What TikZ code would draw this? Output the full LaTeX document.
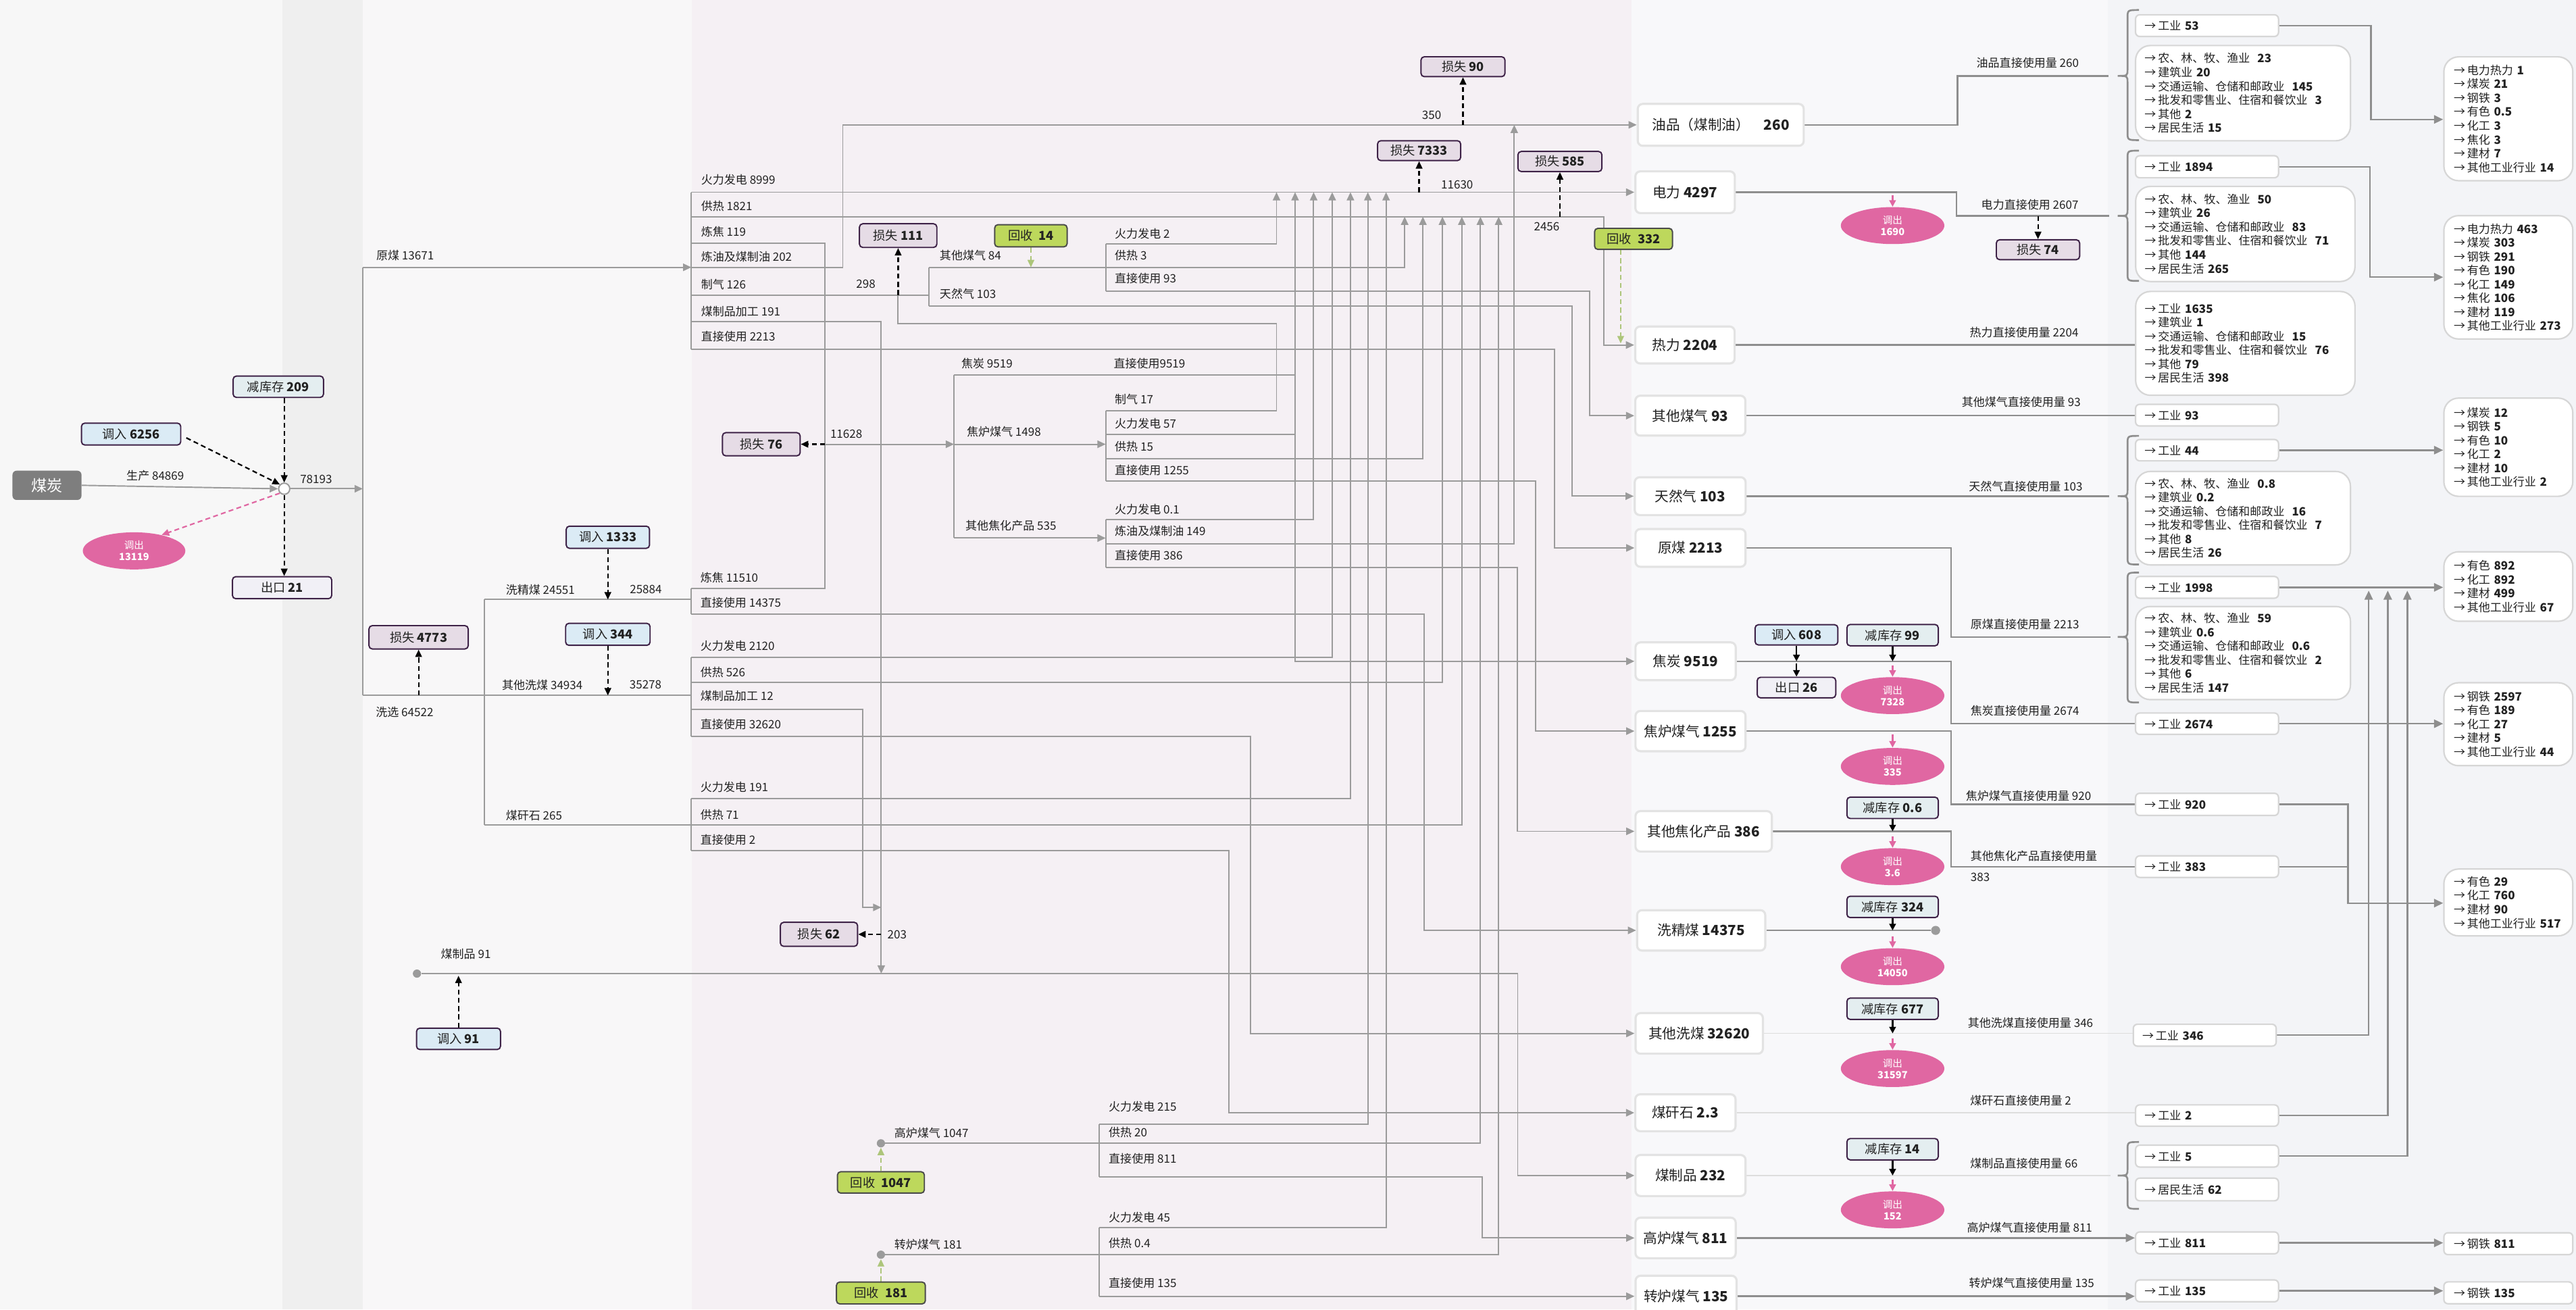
\documentclass[tikz,border=0pt]{standalone}
\usepackage{fontspec}
\setmainfont{Noto Sans CJK SC}
\usetikzlibrary{arrows.meta,shapes.geometric}

\definecolor{bandA}{HTML}{F7F7F7}
\definecolor{bandB}{HTML}{EFEFEF}
\definecolor{bandC}{HTML}{F8F7F8}
\definecolor{bandD}{HTML}{F5F0F4}
\definecolor{bandE}{HTML}{F8F8FA}
\definecolor{bandF}{HTML}{F3F4F7}
\definecolor{edge}{HTML}{9B9B9B}
\definecolor{edgeR}{HTML}{8E8E8E}
\definecolor{faint}{HTML}{DDDDDD}
\definecolor{nodeline}{HTML}{E3E3E3}
\definecolor{tagline}{HTML}{3E2247}
\definecolor{lossfill}{HTML}{E6DCE6}
\definecolor{infill}{HTML}{DBEBF5}
\definecolor{stockfill}{HTML}{E4EEF0}
\definecolor{exportfill}{HTML}{F1F0F6}
\definecolor{recfill}{HTML}{BDD85C}
\definecolor{recline}{HTML}{4B4B4B}
\definecolor{recdash}{HTML}{ADC57A}
\definecolor{outpink}{HTML}{E067A2}
\definecolor{coalgray}{HTML}{7E7E7E}
\definecolor{sectline}{HTML}{D6D6D6}
\definecolor{ink}{HTML}{222222}

\newcommand\fsLab{\fontsize{7}{8}\selectfont}
\newcommand\fsTag{\fontsize{7.5}{9}\selectfont}
\newcommand\fsMain{\fontsize{8.5}{10}\selectfont}
\newcommand\fsList{\fontsize{7}{8.45}\selectfont}
\newcommand\fsOut{\fontsize{6}{7}\selectfont}

\pgfdeclarelayer{bg}
\pgfdeclarelayer{edges}
\pgfsetlayers{bg,edges,main}

\begin{document}
\begin{tikzpicture}[x=1pt,y=-1pt,
  every node/.append style={text=ink},
  flow/.style={draw=edge, line width=0.8pt},
  flowar/.style={flow, -{Triangle[length=5pt,width=4.5pt]}},
  rflow/.style={draw=edgeR, line width=1pt},
  rflowar/.style={rflow, -{Triangle[length=5.5pt,width=5pt]}},
  faintflow/.style={draw=faint, line width=0.7pt},
  lossar/.style={draw=black, line width=0.9pt, dash pattern=on 3pt off 2pt, -{Triangle[length=4.5pt,width=4pt]}},
  recar/.style={draw=recdash, line width=0.9pt, dash pattern=on 3pt off 2pt, -{Triangle[length=4.5pt,width=4pt]}},
  pinkar/.style={draw=outpink, line width=0.9pt, -{Triangle[length=4pt,width=4pt]}},
  pinkdash/.style={draw=outpink, line width=0.9pt, dash pattern=on 3pt off 2pt, -{Triangle[length=4.5pt,width=4pt]}},
  stockar/.style={draw=black, line width=0.9pt, -{Triangle[length=4pt,width=4pt]}},
  lab/.style={anchor=west, inner sep=0pt, font=\fsLab},
  mainnode/.style={draw=nodeline, line width=1.3pt, fill=white, rounded corners=3pt, inner sep=0pt, font=\fsMain},
  tag/.style={draw=tagline, line width=0.8pt, rounded corners=2pt, inner sep=0pt, font=\fsTag},
  losstag/.style={tag, fill=lossfill},
  intag/.style={tag, fill=infill},
  stocktag/.style={tag, fill=stockfill},
  exporttag/.style={tag, fill=exportfill},
  rectag/.style={tag, draw=recline, fill=recfill},
  outell/.style={ellipse, fill=outpink, text=white, inner sep=0pt, font=\fsOut, align=center, minimum width=63pt, minimum height=22.5pt},
  sect/.style={draw=sectline, line width=0.9pt, fill=white, rounded corners=2.5pt, inner xsep=5.5pt, inner ysep=0pt, font=\fsList, align=left, minimum width=87pt, text width=76pt},
  sectbig/.style={draw=sectline, line width=0.9pt, fill=white, rounded corners=9pt, inner xsep=5.5pt, inner ysep=0pt, font=\fsList, align=left},
  sectfar/.style={draw=sectline, line width=0.9pt, fill=white, rounded corners=9pt, inner xsep=6pt, inner ysep=0pt, font=\fsList, align=left, minimum width=78.5pt, text width=66.5pt},
  dotnode/.style={circle, fill=edge, minimum size=5pt, inner sep=0pt},
  bracestroke/.style={draw=edgeR, line width=1.1pt},
]
\useasboundingbox (0,0) rectangle (1568,797);

% ---------- background bands ----------
\begin{pgfonlayer}{bg}
\fill[bandA] (0,0) rectangle (172,797);
\fill[bandB] (172,0) rectangle (221,797);
\fill[bandC] (221,0) rectangle (421,797);
\fill[bandD] (421,0) rectangle (993,797);
\fill[bandE] (993,0) rectangle (1283,797);
\fill[bandF] (1283,0) rectangle (1568,797);
\end{pgfonlayer}

% ---------- source side ----------
\node[fill=coalgray, rounded corners=2.5pt, minimum width=42pt, minimum height=17.8pt, inner sep=0pt, text=white, font=\fontsize{9.5}{11}\selectfont] (coal) at (28.6,295.4) {煤炭};
\node[circle, draw=edge, fill=white, line width=0.8pt, minimum size=6.8pt, inner sep=0pt] (hub) at (173,297.5) {};
\node[stocktag, minimum width=55pt, minimum height=13pt] (stkA) at (169.4,235.4) {减库存 \textbf{209}};
\node[intag, minimum width=60.4pt, minimum height=13.3pt] (inA) at (79.8,264.2) {调入 \textbf{6256}};
\node[exporttag, minimum width=60.4pt, minimum height=13.4pt] (exA) at (171.7,357.7) {出口 \textbf{21}};
\node[outell, minimum width=62.4pt, minimum height=22.6pt] (outA) at (81.6,335.3) {调出\\\textbf{13119}};
\node[intag, minimum width=50.7pt, minimum height=13.5pt] (inB) at (370,327) {调入 \textbf{1333}};
\node[intag, minimum width=51.4pt, minimum height=13.4pt] (inC) at (370,386.1) {调入 \textbf{344}};
\node[losstag, minimum width=60.4pt, minimum height=14.2pt] (lossA) at (254.8,387.9) {损失 \textbf{4773}};
\node[intag, minimum width=51.1pt, minimum height=13pt] (inD) at (279.1,632.3) {调入 \textbf{91}};
\node[dotnode] (dotP) at (253.8,592.6) {};

% ---------- conversion area tags ----------
\node[losstag, minimum width=47.3pt, minimum height=14.1pt] (lossB) at (463.4,270.4) {损失 \textbf{76}};
\node[losstag, minimum width=47.1pt, minimum height=14.4pt] (lossC) at (546.7,143.4) {损失 \textbf{111}};
\node[rectag, minimum width=44.1pt, minimum height=13.5pt] (recA) at (627.5,143.5) {回收\enspace\textbf{14}};
\node[losstag, minimum width=47pt, minimum height=14.6pt] (lossD) at (498.5,568.7) {损失 \textbf{62}};
\node[dotnode] (dotB) at (536.2,695.9) {};
\node[dotnode] (dotL) at (536.2,763.7) {};
\node[rectag, minimum width=52.9pt, minimum height=13pt] (recB) at (536.2,719.7) {回收\enspace\textbf{1047}};
\node[rectag, minimum width=54.1pt, minimum height=13.3pt] (recC) at (536.2,787) {回收\enspace\textbf{181}};
\node[losstag, minimum width=51.1pt, minimum height=12.1pt] (lossE) at (890.5,40.6) {损失 \textbf{90}};
\node[losstag, minimum width=50.6pt, minimum height=12.1pt] (lossF) at (863.8,91.7) {损失 \textbf{7333}};
\node[losstag, minimum width=51.1pt, minimum height=12.2pt] (lossG) at (949.5,98.3) {损失 \textbf{585}};
\node[rectag, minimum width=47.4pt, minimum height=12.8pt] (recD) at (994.3,145.4) {回收\enspace\textbf{332}};

% ---------- final energy nodes ----------
\node[mainnode, minimum width=101pt, minimum height=25.5pt] (oil) at (1047.4,76) {油品（煤制油）\quad\textbf{260}};
\node[mainnode, minimum width=60.5pt, minimum height=25.4pt] (elec) at (1025.7,117) {电力 \textbf{4297}};
\node[mainnode, minimum width=60.5pt, minimum height=22.5pt] (heat) at (1025.6,210) {热力 \textbf{2204}};
\node[mainnode, minimum width=67pt, minimum height=24.3pt] (ogas) at (1028.9,253) {其他煤气 \textbf{93}};
\node[mainnode, minimum width=67.5pt, minimum height=23pt] (ngas) at (1028.8,302) {天然气 \textbf{103}};
\node[mainnode, minimum width=67pt, minimum height=23pt] (raw) at (1029,333.5) {原煤 \textbf{2213}};
\node[mainnode, minimum width=61pt, minimum height=23pt] (coke) at (1026,402.5) {焦炭 \textbf{9519}};
\node[mainnode, minimum width=67pt, minimum height=24.5pt] (cog) at (1029,445) {焦炉煤气 \textbf{1255}};
\node[mainnode, minimum width=83pt, minimum height=24.6pt] (ocp) at (1037,506) {其他焦化产品 \textbf{386}};
\node[mainnode, minimum width=78pt, minimum height=24.6pt] (wcc) at (1035.5,566.3) {洗精煤 \textbf{14375}};
\node[mainnode, minimum width=77.5pt, minimum height=24.7pt] (owc) at (1034.3,629) {其他洗煤 \textbf{32620}};
\node[mainnode, minimum width=61pt, minimum height=22.5pt] (gang) at (1025.9,677.3) {煤矸石 \textbf{2.3}};
\node[mainnode, minimum width=67pt, minimum height=25pt] (cprod) at (1029,715.5) {煤制品 \textbf{232}};
\node[mainnode, minimum width=61pt, minimum height=24.7pt] (bfg) at (1026,753.5) {高炉煤气 \textbf{811}};
\node[mainnode, minimum width=61.5pt, minimum height=25pt] (ldg) at (1026.3,789) {转炉煤气 \textbf{135}};

% ---------- adjustments beside final nodes ----------
\node[losstag, minimum width=50.7pt, minimum height=12.1pt] (lossH) at (1240.5,152) {损失 \textbf{74}};
\node[intag, minimum width=50.4pt, minimum height=12.3pt] (inE) at (1093.5,386.4) {调入 \textbf{608}};
\node[exporttag, minimum width=47.8pt, minimum height=12.5pt] (exB) at (1093.5,418.5) {出口 \textbf{26}};
\node[stocktag, minimum width=55.6pt, minimum height=13pt] (stkB) at (1152,386.6) {减库存 \textbf{99}};
\node[stocktag, minimum width=55.6pt, minimum height=13pt] (stkC) at (1152,491.7) {减库存 \textbf{0.6}};
\node[stocktag, minimum width=55.6pt, minimum height=13pt] (stkD) at (1152,552) {减库存 \textbf{324}};
\node[stocktag, minimum width=55.6pt, minimum height=13pt] (stkE) at (1152,614) {减库存 \textbf{677}};
\node[stocktag, minimum width=55.6pt, minimum height=13pt] (stkF) at (1152,699.5) {减库存 \textbf{14}};
\node[outell] (outE) at (1152,137.3) {调出\\\textbf{1690}};
\node[outell] (outF) at (1152,423.4) {调出\\\textbf{7328}};
\node[outell] (outG) at (1152,466.5) {调出\\\textbf{335}};
\node[outell] (outH) at (1152,527.5) {调出\\\textbf{3.6}};
\node[outell] (outI) at (1152,588.4) {调出\\\textbf{14050}};
\node[outell] (outJ) at (1152,650.4) {调出\\\textbf{31597}};
\node[outell] (outK) at (1152,736.4) {调出\\\textbf{152}};
\node[dotnode, minimum size=5.5pt] (dotW) at (1178.2,566.3) {};

% ---------- end-use sectors ----------
\node[sect, minimum height=13.2pt] (s53) at (1343.4,15.6) {→\,工业 \textbf{53}};
\node[sectbig, minimum width=130.8pt, text width=119.8pt, minimum height=58pt] (oilB) at (1365.3,56.7) {→\,农、林、牧、渔业\hspace{4.5pt}\textbf{23}\\→\,建筑业 \textbf{20}\\→\,交通运输、仓储和邮政业\hspace{4.5pt}\textbf{145}\\→\,批发和零售业、住宿和餐饮业\hspace{4.5pt}\textbf{3}\\→\,其他 \textbf{2}\\→\,居民生活 \textbf{15}};
\node[sect, minimum height=13.4pt] (s1894) at (1343.4,101.5) {→\,工业 \textbf{1894}};
\node[sectbig, minimum width=133.5pt, text width=122.5pt, minimum height=57.9pt] (elecB) at (1366.7,142.4) {→\,农、林、牧、渔业\hspace{4.5pt}\textbf{50}\\→\,建筑业 \textbf{26}\\→\,交通运输、仓储和邮政业\hspace{4.5pt}\textbf{83}\\→\,批发和零售业、住宿和餐饮业\hspace{4.5pt}\textbf{71}\\→\,其他 \textbf{144}\\→\,居民生活 \textbf{265}};
\node[sectbig, minimum width=133.5pt, text width=122.5pt, minimum height=63.2pt] (heatB) at (1366.7,209) {→\,工业 \textbf{1635}\\→\,建筑业 \textbf{1}\\→\,交通运输、仓储和邮政业\hspace{4.5pt}\textbf{15}\\→\,批发和零售业、住宿和餐饮业\hspace{4.5pt}\textbf{76}\\→\,其他 \textbf{79}\\→\,居民生活 \textbf{398}};
\node[sect, minimum height=13.2pt] (s93) at (1343.4,252.7) {→\,工业 \textbf{93}};
\node[sect, minimum height=13pt] (s44) at (1343.4,274) {→\,工业 \textbf{44}};
\node[sectbig, minimum width=130.8pt, text width=119.8pt, minimum height=56.9pt] (ngasB) at (1365.3,315.4) {→\,农、林、牧、渔业\hspace{4.5pt}\textbf{0.8}\\→\,建筑业 \textbf{0.2}\\→\,交通运输、仓储和邮政业\hspace{4.5pt}\textbf{16}\\→\,批发和零售业、住宿和餐饮业\hspace{4.5pt}\textbf{7}\\→\,其他 \textbf{8}\\→\,居民生活 \textbf{26}};
\node[sect, minimum height=13.2pt] (s1998) at (1343.4,357.5) {→\,工业 \textbf{1998}};
\node[sectbig, minimum width=130.8pt, text width=119.8pt, minimum height=56.7pt] (rawB) at (1365.3,397.5) {→\,农、林、牧、渔业\hspace{4.5pt}\textbf{59}\\→\,建筑业 \textbf{0.6}\\→\,交通运输、仓储和邮政业\hspace{4.5pt}\textbf{0.6}\\→\,批发和零售业、住宿和餐饮业\hspace{4.5pt}\textbf{2}\\→\,其他 \textbf{6}\\→\,居民生活 \textbf{147}};
\node[sect, minimum height=13pt] (s2674) at (1343.4,440.5) {→\,工业 \textbf{2674}};
\node[sect, minimum height=13.5pt] (s920) at (1343.4,489.6) {→\,工业 \textbf{920}};
\node[sect, minimum height=13.1pt] (s383) at (1343.4,527.5) {→\,工业 \textbf{383}};
\node[sect, minimum height=13.3pt] (s346) at (1342,630.1) {→\,工业 \textbf{346}};
\node[sect, minimum height=13pt] (s2) at (1343.4,679) {→\,工业 \textbf{2}};
\node[sect, minimum height=13.3pt] (s5) at (1343.4,703.7) {→\,工业 \textbf{5}};
\node[sect, minimum height=13.8pt] (s62) at (1343.4,724) {→\,居民生活 \textbf{62}};
\node[sect, minimum height=13.3pt] (s811) at (1343.4,756.5) {→\,工业 \textbf{811}};
\node[sect, minimum height=13.3pt] (s135) at (1343.4,785.7) {→\,工业 \textbf{135}};

\node[sectfar, minimum height=75.4pt] (rA) at (1526.8,72.3) {→\,电力热力 \textbf{1}\\→\,煤炭 \textbf{21}\\→\,钢铁 \textbf{3}\\→\,有色 \textbf{0.5}\\→\,化工 \textbf{3}\\→\,焦化 \textbf{3}\\→\,建材 \textbf{7}\\→\,其他工业行业 \textbf{14}};
\node[sectfar, minimum height=75.1pt] (rB) at (1526.8,168.8) {→\,电力热力 \textbf{463}\\→\,煤炭 \textbf{303}\\→\,钢铁 \textbf{291}\\→\,有色 \textbf{190}\\→\,化工 \textbf{149}\\→\,焦化 \textbf{106}\\→\,建材 \textbf{119}\\→\,其他工业行业 \textbf{273}};
\node[sectfar, minimum height=59.8pt] (rC) at (1526.8,272.2) {→\,煤炭 \textbf{12}\\→\,钢铁 \textbf{5}\\→\,有色 \textbf{10}\\→\,化工 \textbf{2}\\→\,建材 \textbf{10}\\→\,其他工业行业 \textbf{2}};
\node[sectfar, minimum height=42.3pt] (rD) at (1526.8,357) {→\,有色 \textbf{892}\\→\,化工 \textbf{892}\\→\,建材 \textbf{499}\\→\,其他工业行业 \textbf{67}};
\node[sectfar, minimum height=50.5pt] (rE) at (1526.8,440.8) {→\,钢铁 \textbf{2597}\\→\,有色 \textbf{189}\\→\,化工 \textbf{27}\\→\,建材 \textbf{5}\\→\,其他工业行业 \textbf{44}};
\node[sectfar, minimum height=40.7pt] (rF) at (1526.8,549.3) {→\,有色 \textbf{29}\\→\,化工 \textbf{760}\\→\,建材 \textbf{90}\\→\,其他工业行业 \textbf{517}};
\node[sectfar, rounded corners=2.5pt, minimum height=13.3pt] (rG) at (1526.8,757) {→\,钢铁 \textbf{811}};
\node[sectfar, rounded corners=2.5pt, minimum height=13.3pt] (rH) at (1526.8,786.9) {→\,钢铁 \textbf{135}};

% ---------- flow labels ----------
\foreach \px/\py/\tx [count=\i] in {
  76.8/289.5/生产 84869, 182.5/291.9/78193, 228.9/155.4/原煤 13671, 228.6/433.3/洗选 64522,
  307.7/358.9/洗精煤 24551, 383.2/358.9/25884, 305.4/416.8/其他洗煤 34934, 383/416.8/35278,
  307.7/496.3/煤矸石 265, 268.2/580.8/煤制品 91,
  426.6/109.4/火力发电 8999, 426.6/125.5/供热 1821, 426.6/141/炼焦 119, 426.6/156.3/炼油及煤制油 202,
  426.6/173/制气 126, 426.6/189.5/煤制品加工 191, 426.6/205/直接使用 2213,
  426.2/351.5/炼焦 11510, 426.2/366.9/直接使用 14375,
  426.2/393.3/火力发电 2120, 426.2/409/供热 526, 426.2/423.5/煤制品加工 12, 426.2/441/直接使用 32620,
  426.2/479.1/火力发电 191, 426.2/496/供热 71, 426.2/511.1/直接使用 2}
  \node[lab] (ta\i) at (\px,\py) {\tx};

\foreach \px/\py/\tx [count=\i] in {
  505.2/264/11628, 585/221.2/焦炭 9519, 677.7/221.2/直接使用9519, 588.3/262.7/焦炉煤气 1498,
  587.5/319.9/其他焦化产品 535, 571.8/155.4/其他煤气 84, 571.8/178.8/天然气 103, 521/173/298,
  678.4/142.3/火力发电 2, 678.4/155.4/供热 3, 678.4/169.6/直接使用 93,
  678.4/243.1/制气 17, 678.4/257.9/火力发电 57, 678.4/271.8/供热 15, 678.4/286.2/直接使用 1255,
  678.4/309.9/火力发电 0.1, 678.4/323.2/炼油及煤制油 149, 678.4/338.1/直接使用 386,
  540/568.7/203, 544.2/689.8/高炉煤气 1047, 544.2/757.4/转炉煤气 181,
  674.7/673.4/火力发电 215, 674.7/689.4/供热 20, 674.7/705.4/直接使用 811,
  674.7/740.9/火力发电 45, 674.7/756.5/供热 0.4, 674.7/780.8/直接使用 135,
  865.4/70.1/350, 877/112.5/11630, 933.5/138/2456}
  \node[lab] (tb\i) at (\px,\py) {\tx};

\foreach \px/\py/\tx [count=\i] in {
  1202.9/38.1/油品直接使用量 260, 1205.8/124.6/电力直接使用 2607, 1198.8/202.5/热力直接使用量 2204,
  1193.9/244.9/其他煤气直接使用量 93, 1198.2/296/天然气直接使用量 103, 1199.3/380/原煤直接使用量 2213,
  1199.3/432.8/焦炭直接使用量 2674, 1196.4/484.3/焦炉煤气直接使用量 920, 1199.3/521/其他焦化产品直接使用量,
  1199.3/534.1/383, 1197.6/622.7/其他洗煤直接使用量 346, 1199.1/670.1/煤矸石直接使用量 2,
  1199.1/708/煤制品直接使用量 66, 1197.1/747.1/高炉煤气直接使用量 811, 1198.3/780.8/转炉煤气直接使用量 135}
  \node[lab] (tc\i) at (\px,\py) {\tx};

% ---------- connectors ----------
\begin{pgfonlayer}{edges}
\coordinate (split) at (220.8,297.5);
\coordinate (jWC) at (295,364.9);
\coordinate (jOW) at (295,423.3);
\coordinate (jLoss) at (254.8,423.3);
\coordinate (jOG) at (627.5,162.7);
\coordinate (jHeat) at (986.5,209);

% source balance
\draw[flowar] (coal.east) -- (hub.west);
\draw[flowar] (hub.east) -- (split);
\draw[lossar] (stkA.south -| hub.north) -- (hub.north);
\draw[lossar] (inA.east) ++(3,2.3) -- (hub.north west);
\draw[pinkdash] (hub.south west) -- (outA.30);
\draw[lossar] (hub.south) -- (hub.south |- exA.north);

% primary split: raw coal and washing
\draw[flow] (220.8,162.7) -- (220.8,423.3);
\draw[flowar] (220.8,162.7) -- (420.8,162.7);
\draw[flow] (220.8,423.3) -- (420.8,423.3);
\draw[flow] (295,364.9) -- (295,502);
\draw[flow] (jWC) -- (420.8,364.9);
\draw[flow] (295,502) -- (420.8,502);
\draw[lossar] (jLoss) -- (lossA.south);
\draw[lossar] (inB.south) -- (inB.south |- jWC);
\draw[lossar] (inC.south) -- (inC.south |- jOW);

% raw coal uses
\draw[flow] (420.8,117) -- (420.8,212.5);
\draw[flowar] (420.8,117) -- (elec.west);
\draw[flowar] (420.8,131.9) -- (976.4,131.9) -- (976.4,210) -- (heat.west);
\draw[flow] (420.8,148) -- (502.2,148) -- (502.2,358) -- (420.8,358);
\draw[flowar] (420.8,162.7) -- (513,162.7) -- (513,76) -- (oil.west);
\draw[flow] (420.8,179.6) -- (565.6,179.6);
\draw[flow] (565.6,162.7) -- (565.6,186.4);
\draw[flowar] (420.8,195.6) -- (536.4,195.6) -- (536.4,592.6);
\draw[flowar] (420.8,212.5) -- (946.2,212.5) -- (946.2,333.5) -- (raw.west);

% gas making
\draw[flow] (565.6,162.7) -- (673,162.7);
\draw[flowar] (565.6,186.4) -- (956.8,186.4) -- (956.8,302) -- (ngas.west);
\draw[recar] (recA.south) -- (jOG);
\draw[lossar] (546.7,179.6) -- (lossC.south);
\draw[flow] (673,250.1) -- (777,250.1) -- (777,197) -- (546.7,197) -- (546.7,179.6);
\draw[flow] (673,148.5) -- (673,177.4);
\draw[flowar] (673,148.5) -- (777,148.5) -- (777,117);
\draw[flowar] (673,162.7) -- (855,162.7) -- (855,131.9);
\draw[flowar] (673,177.4) -- (967.5,177.4) -- (967.5,253) -- (ogas.west);

% coking
\draw[flowar] (502.2,270.4) -- (580.7,270.4);
\draw[lossar] (502.2,270.4) -- (lossB.east);
\draw[flow] (580.7,228.4) -- (580.7,327.5);
\draw[flowar] (580.7,228.4) -- (788.3,228.4) -- (788.3,402.5) -- (coke.west);
\draw[flowar] (580.7,270.4) -- (673,270.4);
\draw[flowar] (580.7,327.5) -- (673,327.5);
\draw[flow] (673,250.1) -- (673,292.9);
\draw[flowar] (673,264.4) -- (788.3,264.4) -- (788.3,117);
\draw[flowar] (673,279.1) -- (866.1,279.1) -- (866.1,131.9);
\draw[flowar] (673,292.9) -- (934.8,292.9) -- (934.8,445) -- (cog.west);
\draw[flow] (673,316.3) -- (673,345.4);
\draw[flowar] (673,316.3) -- (799.6,316.3) -- (799.6,117);
\draw[flowar] (673,331) -- (921.7,331) -- (921.7,76);
\draw[flowar] (673,345.4) -- (923.5,345.4) -- (923.5,506) -- (ocp.west);

% washed coal uses
\draw[flow] (420.8,358) -- (420.8,373.9);
\draw[flowar] (420.8,373.9) -- (866.8,373.9) -- (866.8,566.3) -- (wcc.west);
\draw[flow] (420.8,400.2) -- (420.8,448.3);
\draw[flowar] (420.8,400.2) -- (810.9,400.2) -- (810.9,117);
\draw[flowar] (420.8,415.4) -- (878,415.4) -- (878,131.9);
\draw[flowar] (420.8,431.9) -- (525.3,431.9) -- (525.3,552.3) -- (536.4,552.3);
\draw[flowar] (420.8,448.3) -- (761.3,448.3) -- (761.3,629) -- (owc.west);
\draw[lossar] (536.4,568.7) -- (lossD.east);
\draw[flow] (420.8,486) -- (420.8,517.6);
\draw[flowar] (420.8,486) -- (822,486) -- (822,117);
\draw[flowar] (420.8,502) -- (889.8,502) -- (889.8,131.9);
\draw[flowar] (420.8,517.6) -- (748.2,517.6) -- (748.2,677.3) -- (gang.west);

% coal products
\draw[flowar] (dotP) -- (923.8,592.6) -- (923.8,715.5) -- (cprod.west);
\draw[lossar] (inD.north) -- ++(0,-31.5);

% blast furnace and converter gas
\draw[flow] (dotB) -- (668.9,695.9);
\draw[flow] (668.9,684.2) -- (668.9,716.3);
\draw[flowar] (668.9,684.2) -- (832.6,684.2) -- (832.6,117);
\draw[flowar] (668.9,695.9) -- (901.1,695.9) -- (901.1,131.9);
\draw[flowar] (668.9,716.3) -- (902.2,716.3) -- (902.2,753.5) -- (bfg.west);
\draw[recar] (recB.north) -- (dotB.south);
\draw[flow] (dotL) -- (668.9,763.7);
\draw[flow] (668.9,747.3) -- (668.9,789);
\draw[flowar] (668.9,747.3) -- (843.7,747.3) -- (843.7,117);
\draw[flowar] (668.9,763.7) -- (912.2,763.7) -- (912.2,131.9);
\draw[flowar] (668.9,789) -- (ldg.west);
\draw[recar] (recC.north) -- (dotL.south);

% losses on the power, heat and oil lines
\draw[lossar] (890.5,76) -- (lossE.south);
\draw[lossar] (863.8,117) -- (lossF.south);
\draw[lossar] (949.5,131.9) -- (lossG.south);
\draw[recar] (recD.south -| jHeat) -- (jHeat);

% final energy to direct use
\draw[rflow] (oil.east) -- (1191.5,76) -- (1191.5,46.2) -- (1283.4,46.2);
\draw[rflow] (elec.east) -- (1190.8,117) -- (1190.8,131.4) -- (1283.9,131.4);
\draw[pinkar] (outE.north) ++(0,-7) -- (outE.north);
\draw[lossar] (1240.5,131.4) -- (lossH.north);
\draw[rflow] (heat.east) -- (heatB.west |- heat.east);
\draw[rflow] (ogas.east) -- (s93.west |- ogas.east);
\draw[rflow] (ngas.east) -- (1283.9,302);
\draw[rflow] (raw.east) -- (1187.5,333.5) -- (1187.5,387.7) -- (1284.7,387.7);
\draw[rflow] (coke.east) -- (1187.5,402.5) -- (1187.5,440.5) -- (s2674.west);
\draw[rflow] (cog.east) -- (1187.5,445) -- (1187.5,489.6) -- (s920.west);
\draw[rflow] (ocp.east) -- (1187.5,506) -- (1187.5,527.5) -- (s383.west);
\draw[rflow] (wcc.east) -- (dotW);
\draw[faintflow] (owc.east) -- (s346.west |- owc.east);
\draw[faintflow] (gang.east) -- (s2.west |- gang.east);
\draw[faintflow] (cprod.east) -- (1284.7,715.5);
\draw[rflowar] (bfg.east) -- (s811.west |- bfg.east);
\draw[rflowar] (ldg.east) -- (s135.west |- ldg.east);

% stock changes, imports, exports and outflows
\draw[stockar] (inE.south) -- (inE.south |- coke.east);
\draw[stockar] (inE.south |- coke.east) ++(0,1.5) -- (exB.north);
\draw[stockar] (stkB.south) -- (stkB.south |- coke.east);
\draw[stockar] (stkC.south) -- (stkC.south |- ocp.east);
\draw[stockar] (stkD.south) -- (stkD.south |- wcc.east);
\draw[stockar] (stkE.south) -- (stkE.south |- owc.east);
\draw[stockar] (stkF.south) -- (stkF.south |- cprod.east);
\draw[pinkar] (outF.north) ++(0,-7) -- (outF.north);
\draw[pinkar] (outG.north) ++(0,-8) -- (outG.north);
\draw[pinkar] (outH.north) ++(0,-7) -- (outH.north);
\draw[pinkar] (outI.north) ++(0,-7) -- (outI.north);
\draw[pinkar] (outJ.north) ++(0,-7) -- (outJ.north);
\draw[pinkar] (outK.north) ++(0,-7) -- (outK.north);

% braces grouping sectors
\foreach \t/\m/\b in {6.1/46.2/85.3, 91.7/131.4/171, 265.3/302/343.6, 348.5/387.7/427.6, 695.1/715.5/735.8}
  \draw[bracestroke] (1302,\t) .. controls (1295,\t) .. (1295,\t+5) -- (1295,\m-4)
     .. controls (1295,\m) .. (1289,\m) .. controls (1295,\m) .. (1295,\m+4)
     -- (1295,\b-5) .. controls (1295,\b) .. (1302,\b);

% industry detail links
\coordinate (kA) at (1443.2,72.7);
\coordinate (kB) at (1442.5,168.7);
\coordinate (kD1) at (1441.8,359.5);
\coordinate (kD2) at (1453.4,359.5);
\coordinate (kD3) at (1465.3,359.5);
\coordinate (kF) at (1429.2,549.7);
\draw[rflowar] (s53.east) -| (kA) -- (rA.west |- kA);
\draw[rflowar] (s1894.east) -| (kB) -- (rB.west |- kB);
\draw[rflowar] (s44.east) -- (rC.west |- s44.east);
\draw[rflowar] (s1998.east) -- (rD.west |- s1998.east);
\draw[rflowar] (s346.east) -| (kD1);
\draw[rflowar] (s2.east) -| (kD2);
\draw[rflowar] (s5.east) -| (kD3);
\draw[rflowar] (s2674.east) -- (rE.west |- s2674.east);
\draw[rflowar] (s920.east) -| (kF) -- (rF.west |- kF);
\draw[rflow] (s383.east) -- (s383.east -| kF);
\draw[rflowar] (s811.east) -- (rG.west |- s811.east);
\draw[rflowar] (s135.east) -- (rH.west |- s135.east);
\end{pgfonlayer}
\end{tikzpicture}
\end{document}
